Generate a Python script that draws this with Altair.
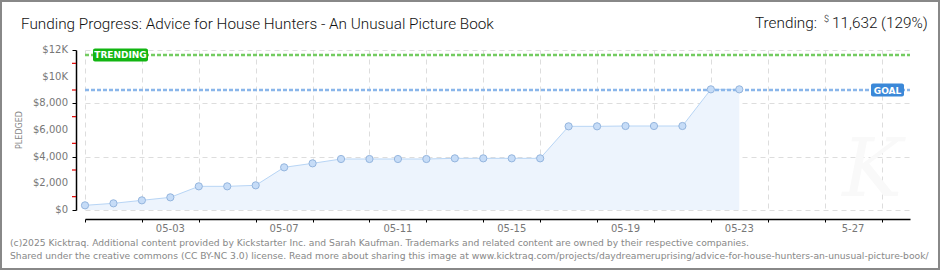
import altair as alt
import pandas as pd

# ---- data ----
DATES = ["2025-04-30", "2025-05-01", "2025-05-02", "2025-05-03", "2025-05-04",
         "2025-05-05", "2025-05-06", "2025-05-07", "2025-05-08", "2025-05-09",
         "2025-05-10", "2025-05-11", "2025-05-12", "2025-05-13", "2025-05-14",
         "2025-05-15", "2025-05-16", "2025-05-17", "2025-05-18", "2025-05-19",
         "2025-05-20", "2025-05-21", "2025-05-22", "2025-05-23"]
PLEDGED = [350, 500, 725, 950, 1775, 1775, 1850, 3200, 3500, 3825,
           3825, 3825, 3825, 3875, 3875, 3875, 3875, 6275, 6275, 6300,
           6300, 6300, 9050, 9050]
GOAL = 9000
TRENDING = 11632
Y_TICKS = [0, 2000, 4000, 6000, 8000, 10000, 12000]
Y_TICK_LABELS = ["$0", "$2,000", "$4,000", "$6,000", "$8,000", "$10K", "$12K"]
Y_MINOR = [1000, 3000, 5000, 7000, 9000, 11000]
X_LABEL_DATES = ["2025-05-03", "2025-05-07", "2025-05-11", "2025-05-15",
                 "2025-05-19", "2025-05-23", "2025-05-27"]
X_LABEL_TEXT = ["05-03", "05-07", "05-11", "05-15", "05-19", "05-23", "5-27"]

TITLE = "Funding Progress: Advice for House Hunters - An Unusual Picture Book"
TREND_PREFIX = "Trending:"
TREND_VALUE = "11,632 (129%)"
FOOTER1 = ("(c)2025 Kicktraq. Additional content provided by Kickstarter Inc. and Sarah Kaufman. "
           "Trademarks and related content are owned by their respective companies.")
FOOTER2 = ("Shared under the creative commons (CC BY-NC 3.0) license. Read more about sharing this "
           "image at www.kicktraq.com/projects/daydreameruprising/advice-for-house-hunters-an-unusual-picture-book/")

df = pd.DataFrame({"date": DATES, "pledged": PLEDGED})

W, H = 825, 160
PAD_L, PAD_T = 85, 50
AXIS_FONT = "DejaVu Sans"
GRID = "#dddddd"

day_ticks = [alt.DateTime(year=d.year, month=d.month, date=d.day, utc=True)
             for d in pd.date_range("2025-04-30", "2025-05-29", freq="D")]

x_scale = alt.Scale(type="utc",
                    domain=[alt.DateTime(year=2025, month=4, date=30, utc=True),
                            alt.DateTime(year=2025, month=5, date=29, utc=True)])
y_scale = alt.Scale(domain=[0, 12000], nice=False)

x_enc = alt.X("date:T", scale=x_scale, title=None,
              axis=alt.Axis(values=day_ticks, labels=False, grid=True,
                            gridDash=[5, 4], gridColor=GRID, gridWidth=1,
                            domainColor="#000", tickColor="#000", tickSize=3,
                            offset=9, domainWidth=1.5))
y_enc = alt.Y("pledged:Q", scale=y_scale, title=None,
              axis=alt.Axis(values=Y_TICKS, labels=False, grid=True, gridDash=[5, 4],
                            gridColor=GRID, domainColor="#000", tickColor="#000",
                            tickSize=4, offset=9, domainWidth=1.5))

base = alt.Chart(df)

area = base.mark_area(color="#edf4fd", opacity=1, interpolate="linear").encode(x=x_enc, y=y_enc)
line = base.mark_line(color="#b8d5f5", strokeWidth=1).encode(x="date:T", y="pledged:Q")

goal_rule = alt.Chart(pd.DataFrame({"v": [GOAL]})).mark_rule(
    color="#8ab6ea", strokeWidth=2.5, strokeDash=[4, 2]).encode(
    y="v:Q", x=alt.value(0), x2=alt.value(W))
trend_rule = alt.Chart(pd.DataFrame({"v": [TRENDING]})).mark_rule(
    color="#74cc62", strokeWidth=2.5, strokeDash=[4, 2]).encode(
    y="v:Q", x=alt.value(0), x2=alt.value(W))

points = base.mark_circle(size=52, fill="#c6dcf7", stroke="#94b5de", strokeWidth=1, opacity=1).encode(
    x="date:T", y="pledged:Q")

minor = alt.Chart(pd.DataFrame({"v": Y_MINOR})).mark_rule(color="#e00000", strokeWidth=1.2).encode(
    y="v:Q", x=alt.value(-13), x2=alt.value(-9))

x_labels = alt.Chart(pd.DataFrame({"date": X_LABEL_DATES, "t": X_LABEL_TEXT})).mark_text(
    font=AXIS_FONT, fontSize=10, color="#777", align="center", baseline="middle").encode(
    x="date:T", y=alt.value(H + 19), text="t:N")
y_labels = alt.Chart(pd.DataFrame({"v": Y_TICKS, "t": Y_TICK_LABELS})).mark_text(
    font=AXIS_FONT, fontSize=10, color="#777", align="right", baseline="middle").encode(
    y="v:Q", x=alt.value(-17), text="t:N")

trend_box = alt.Chart(pd.DataFrame({"v": [TRENDING]})).mark_rect(
    color="#12b512", cornerRadius=2, yOffset=-6.5, y2Offset=6.5).encode(
    y="v:Q", y2="v:Q", x=alt.value(8), x2=alt.value(63))
trend_txt = alt.Chart(pd.DataFrame({"v": [TRENDING], "t": ["TRENDING"]})).mark_text(
    color="white", font=AXIS_FONT, fontSize=9, fontWeight="bold", align="center",
    baseline="middle", dy=0.5).encode(y="v:Q", x=alt.value(35.5), text="t:N")
goal_box = alt.Chart(pd.DataFrame({"v": [GOAL]})).mark_rect(
    color="#3b88d8", cornerRadius=2, yOffset=-6.5, y2Offset=6.5).encode(
    y="v:Q", y2="v:Q", x=alt.value(786), x2=alt.value(819))
goal_txt = alt.Chart(pd.DataFrame({"v": [GOAL], "t": ["GOAL"]})).mark_text(
    color="white", font=AXIS_FONT, fontSize=9, fontWeight="bold", align="center",
    baseline="middle", dy=0.5).encode(y="v:Q", x=alt.value(802.5), text="t:N")

def txt(s, x, y, **kw):
    return alt.Chart(pd.DataFrame({"t": [s]})).mark_text(**kw).encode(
        x=alt.value(x - PAD_L), y=alt.value(y - PAD_T), text="t:N")

title = txt(TITLE, 21, 29, font="Roboto", fontWeight=300, fontSize=15.3, color="#111",
            align="left", baseline="alphabetic")
trend_a = txt(TREND_PREFIX, 817, 28, font="Roboto", fontWeight=300, fontSize=15.3, color="#111",
              align="right", baseline="alphabetic")
trend_d = txt("$", 824, 22, font="Roboto", fontWeight=300, fontSize=9, color="#111",
              align="left", baseline="alphabetic")
trend_b = txt(TREND_VALUE, 832, 28, font="Roboto", fontWeight=300, fontSize=15.3, color="#111",
              align="left", baseline="alphabetic")
ylab = txt("PLEDGED", 20, 130, font=AXIS_FONT, fontSize=8, color="#888", angle=270,
           align="center", baseline="middle")
foot1 = txt(FOOTER1, 10, 246, font="DejaVu Sans", fontSize=9.2, color="#888",
            align="left", baseline="alphabetic")
foot2 = txt(FOOTER2, 10, 259, font="DejaVu Sans", fontSize=9.2, color="#888",
            align="left", baseline="alphabetic")
water = txt("K", 872, 172, font="DejaVu Serif", fontSize=80, fontStyle="italic", color="#f9f9f9",
            align="center", baseline="middle")

border = alt.Chart(pd.DataFrame({"a": [0]})).mark_rect(
    fill=None, stroke="#888", strokeWidth=2).encode(
    x=alt.value(1 - PAD_L), x2=alt.value(939 - PAD_L),
    y=alt.value(1 - PAD_T), y2=alt.value(269 - PAD_T))

chart = alt.layer(
    water, area, line, trend_rule, goal_rule, points, minor, x_labels, y_labels,
    trend_box, trend_txt, goal_box, goal_txt,
    title, trend_a, trend_d, trend_b, ylab, foot1, foot2, border
).properties(
    width=W, height=H,
    autosize=alt.AutoSizeParams(type="none"),
    padding={"left": PAD_L, "top": PAD_T, "right": 940 - PAD_L - W, "bottom": 270 - PAD_T - H},
    background="white",
).configure_view(stroke=None)

chart.save("out.html", embed_options={"renderer": "svg", "actions": False})
